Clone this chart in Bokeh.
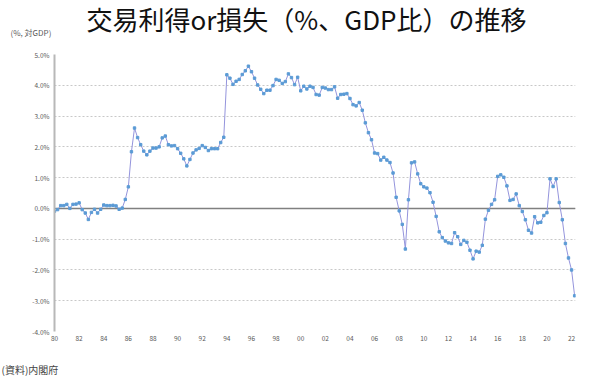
from bokeh.plotting import figure
from bokeh.models import FixedTicker, Span, Label, ColumnDataSource
from bokeh.embed import file_html
from bokeh.resources import INLINE

# Quarterly values (% of GDP), 1980Q1 ...
start_year = 1980
vals_1980s = [-0.09, -0.04, 0.09, 0.09,  0.13, 0.00, 0.13, 0.14,  0.18, -0.04, -0.15, -0.36,
              -0.13, -0.03, -0.15, -0.03,  0.11, 0.09, 0.09, 0.10,  0.08, -0.03, 0.01, 0.29,
              0.70, 1.84, 2.61, 2.30,  2.07, 1.86, 1.74, 1.86,  1.96, 1.96, 2.00, 2.29,
              2.35, 2.07, 2.03, 2.04]
vals_1990s = [1.94, 1.79, 1.61, 1.38,  1.59, 1.80, 1.90, 1.95,  2.04, 1.98, 1.88, 1.94,
              1.94, 1.94, 2.14, 2.31,  4.34, 4.23, 4.03, 4.13,  4.19, 4.35, 4.47, 4.62,
              4.44, 4.23, 4.01, 3.87,  3.73, 3.84, 3.84, 3.99,  4.19, 4.16, 4.06, 4.12,
              4.37, 4.25, 4.02, 4.26]
vals_2000s = [3.82, 3.97, 3.88, 3.97,  3.93, 3.70, 3.68, 3.93,  3.91, 3.86, 3.86, 3.95,
              3.58, 3.70, 3.71, 3.73,  3.57, 3.37, 3.33, 3.44,  3.19, 2.78, 2.46, 2.23,
              1.80, 1.78, 1.57, 1.66,  1.57, 1.49, 1.15, 0.36,  -0.08, -0.52, -1.32, 0.28,
              1.48, 1.51, 1.12, 0.80]
vals_2010s = [0.70, 0.66, 0.51, 0.20,  -0.26, -0.76, -0.95, -1.06,  -1.12, -1.14, -0.79, -0.92,
              -1.17, -1.04, -1.10, -1.36,  -1.64, -1.39, -1.42, -1.20,  -0.35, -0.06, 0.13, 0.28,
              1.04, 1.09, 1.01, 0.73,  0.26, 0.29, 0.47, 0.09,  -0.10, -0.37, -0.71, -0.80,
              -0.27, -0.47, -0.45, -0.23]
vals_2020s = [-0.14, 0.96, 0.71, 0.96,  0.19, -0.37, -1.14, -1.61,  -2.00, -2.84]

x_tick_years = list(range(1980, 2023, 2))
x_tick_labels = ["%02d" % (y % 100) for y in x_tick_years]
y_ticks = [-4, -3, -2, -1, 0, 1, 2, 3, 4, 5]
y_tick_labels = ["%.1f%%" % v for v in y_ticks]

title_text = "交易利得or損失（%、GDP比）の推移"
unit_text = "(%, 対GDP)"
source_text = "(資料)内閣府"

values = vals_1980s + vals_1990s + vals_2000s + vals_2010s + vals_2020s
xs = [start_year + i / 4 for i in range(len(values))]
src = ColumnDataSource(dict(x=xs, y=values))

FONT = "Noto Sans CJK JP"

p = figure(width=592, height=378, output_backend="svg", toolbar_location=None,
           x_range=(1980, 2022.32), y_range=(-4, 5),
           min_border_left=54, min_border_right=17, min_border_top=54, min_border_bottom=47)
p.title.visible = False
p.outline_line_color = None
p.background_fill_color = "white"
p.border_fill_color = "white"

# grids
p.xgrid.grid_line_color = None
p.ygrid.grid_line_color = "#c8c8c8"
p.ygrid.grid_line_dash = "2 2"
p.ygrid.grid_line_width = 1

# y axis
p.yaxis.ticker = FixedTicker(ticks=y_ticks)
p.yaxis.major_label_overrides = {t: l for t, l in zip(y_ticks, y_tick_labels)}
p.yaxis.axis_line_color = "#b8b8b8"
p.yaxis.axis_line_width = 2
p.yaxis.major_tick_line_color = None
p.yaxis.minor_tick_line_color = None
p.yaxis.major_tick_out = 0
p.yaxis.minor_tick_out = 0
p.yaxis.major_label_text_font_size = "6.5px"
p.yaxis.major_label_text_color = "#595959"
p.yaxis.major_label_text_font = FONT
p.yaxis.major_label_standoff = 5

# x axis
p.xaxis.ticker = FixedTicker(ticks=x_tick_years)
p.xaxis.major_label_overrides = {t: l for t, l in zip(x_tick_years, x_tick_labels)}
p.xaxis.axis_line_color = None
p.xaxis.major_tick_line_color = None
p.xaxis.minor_tick_line_color = None
p.xaxis.major_tick_out = 0
p.xaxis.minor_tick_out = 0
p.xaxis.major_label_text_font_size = "6.5px"
p.xaxis.major_label_text_color = "#595959"
p.xaxis.major_label_text_font = FONT
p.xaxis.major_label_standoff = 4

zero = Span(location=0, dimension="width", line_color="#808080", line_width=1.5, level="underlay")
p.add_layout(zero)

p.line("x", "y", source=src, line_color="#9494dc", line_width=1)
p.scatter("x", "y", source=src, marker="square", size=2.4,
          fill_color="#5b9bd5", line_color="#5b9bd5")

# texts placed in the side panels (positions relative to each panel's edge next to the frame)
unit = Label(x=-44, y=22, x_units="screen", y_units="screen", text=unit_text,
             text_font=FONT, text_font_size="8px", text_color="#595959",
             text_align="left", text_baseline="middle")
title = Label(x=252, y=25, x_units="screen", y_units="screen", text=title_text,
              text_font=FONT, text_font_size="26px", text_color="#111111",
              text_align="center", text_baseline="middle")
p.above = [unit, title] + list(p.above)

source_lbl = Label(x=-53, y=-11, x_units="screen", y_units="screen", text=source_text,
                   text_font=FONT, text_font_size="10px", text_color="#444444",
                   text_align="left", text_baseline="middle")
p.below = list(p.below) + [source_lbl]

open("out.html", "w").write(file_html(p, INLINE))
